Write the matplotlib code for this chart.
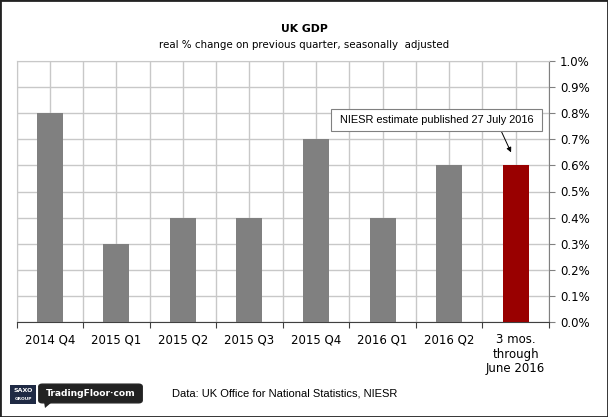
import matplotlib
matplotlib.use("Agg")
import matplotlib.pyplot as plt
import matplotlib.patches as mpatches
import numpy as np

# data
categories = ["2014 Q4", "2015 Q1", "2015 Q2", "2015 Q3", "2015 Q4",
              "2016 Q1", "2016 Q2", "3 mos.\nthrough\nJune 2016"]
gdp_change = [0.8, 0.3, 0.4, 0.4, 0.7, 0.4, 0.6, 0.6]
is_estimate = [False] * 7 + [True]

C_BAR = "#808080"
C_EST = "#990000"
C_GRID = "#c8c8c8"

fig = plt.figure(figsize=(6.08, 4.17), dpi=100)
fig.patch.set_facecolor("white")
ax = fig.add_axes([16.5 / 608, 95 / 417, 532.5 / 608, 261 / 417])

x = np.arange(len(categories))
colors = [C_EST if e else C_BAR for e in is_estimate]
ax.bar(x, gdp_change, width=0.39, color=colors, zorder=3)

ax.set_xlim(-0.5, len(categories) - 0.5)
ax.set_ylim(0, 1.0)

# y axis on the right
ax.yaxis.tick_right()
ax.set_yticks(np.arange(0, 1.01, 0.1))
ax.set_yticklabels([f"{v:.1f}%" for v in np.arange(0, 1.01, 0.1)],
                   fontsize=8.5, family="DejaVu Sans")
ax.tick_params(axis="y", length=4, width=0.8, color="#808080", pad=4)

# x axis: labels at centres, ticks at boundaries
ax.set_xticks(x)
ax.set_xticklabels(categories, fontsize=8.5, family="DejaVu Sans",
                   linespacing=1.15)
ax.tick_params(axis="x", which="major", length=0, pad=8)
ax.set_xticks(np.arange(-0.5, len(categories), 1), minor=True)
ax.tick_params(axis="x", which="minor", length=4, width=0.8,
               color="#404040", direction="out")

# gridlines every half category and every 0.1%
for xv in np.arange(-0.5, len(categories), 0.5):
    ax.axvline(xv, color=C_GRID, lw=1, zorder=1)
ax.grid(axis="y", color=C_GRID, lw=1, zorder=1)
ax.set_axisbelow(True)

for s in ["left", "top"]:
    ax.spines[s].set_color(C_GRID)
ax.spines["right"].set_color("#808080")
ax.spines["bottom"].set_color("#404040")

# titles
fig.text(0.5, 1 - 29 / 417, "UK GDP", ha="center", va="center",
         fontsize=7.8, fontweight="bold", family="DejaVu Sans")
fig.text(0.5, 1 - 45 / 417,
         "real % change on previous quarter, seasonally  adjusted",
         ha="center", va="center", fontsize=7.4, family="DejaVu Sans")

# annotation
ax.annotate(" NIESR estimate published 27 July 2016 ",
            xy=(6.93, 0.65), xytext=(5.81, 0.774),
            ha="center", va="center", fontsize=7.9, family="Liberation Sans",
            bbox=dict(boxstyle="square,pad=0.55", fc="white", ec="#808080", lw=0.8),
            arrowprops=dict(arrowstyle="-|>", color="black", lw=0.7,
                            mutation_scale=7, shrinkA=0, shrinkB=0,
                            relpos=(0.81, 0)),
            zorder=5)

# footer
fig.text(172 / 608, 1 - 394 / 417,
         "Data: UK Office for National Statistics, NIESR",
         ha="left", va="center", fontsize=8, family="Liberation Sans")

# logo
saxo = mpatches.Rectangle((10 / 608, 1 - 404 / 417), 26 / 608, 19 / 417,
                          transform=fig.transFigure, fc="#1f2a44", ec="none")
fig.patches.append(saxo)
fig.text(23 / 608, 1 - 390 / 417, "SAXO", ha="center", va="center",
         fontsize=4.5, color="white", fontweight="bold", transform=fig.transFigure)
fig.text(23 / 608, 1 - 399 / 417, "GROUP", ha="center", va="center",
         fontsize=3.2, color="white", fontweight="bold", transform=fig.transFigure)
tf = mpatches.FancyBboxPatch((40 / 608, 1 - 402 / 417), 101 / 608, 17 / 417,
                             boxstyle="round,pad=0.002,rounding_size=0.006",
                             transform=fig.transFigure, fc="#222222", ec="#222222")
fig.patches.append(tf)
tail = mpatches.Polygon([(44 / 608, 1 - 402 / 417), (52 / 608, 1 - 402 / 417),
                         (45 / 608, 1 - 408 / 417)],
                        transform=fig.transFigure, fc="#222222", ec="none")
fig.patches.append(tail)
fig.text(90.5 / 608, 1 - 393.5 / 417, "TradingFloor·com", ha="center", va="center",
         fontsize=6.6, color="white", fontweight="bold", family="DejaVu Sans")
fig.patches.append(mpatches.Rectangle((0, 0), 1, 1, transform=fig.transFigure,
                                      fill=False, ec="#222222", lw=2))

fig.savefig("out.png", dpi=100)
